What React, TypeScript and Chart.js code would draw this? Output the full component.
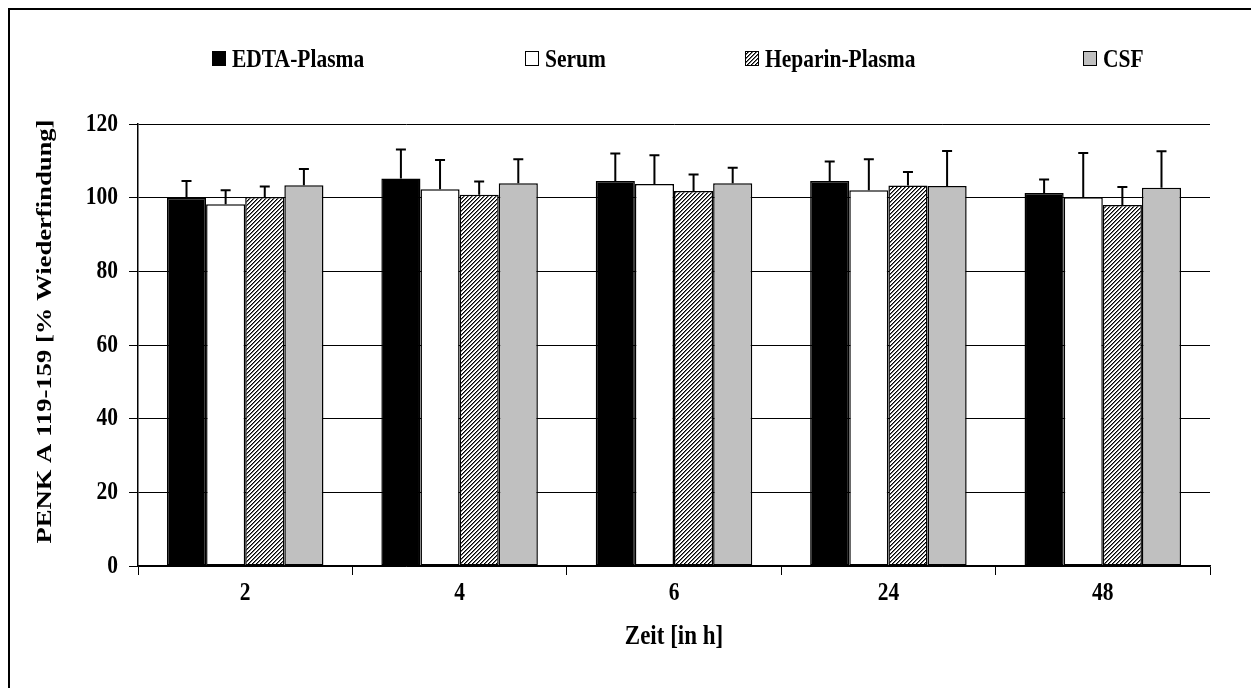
import { useEffect, useRef } from "react";
import { Chart, registerables } from "chart.js";

Chart.register(...registerables);

// Zeitpunkte (h) und Wiederfindung in %, Mittelwert und Standardabweichung
const timepoints = ["2", "4", "6", "24", "48"];
const seriesNames = ["EDTA-Plasma", "Serum", "Heparin-Plasma", "CSF"];

const edtaMean = [99.9, 105.2, 104.5, 104.5, 101.3];
const edtaSd = [4.6, 7.9, 7.5, 5.3, 3.6];
const serumMean = [98.2, 102.3, 103.7, 102.0, 100.1];
const serumSd = [3.8, 7.9, 7.8, 8.4, 12.0];
const heparinMean = [100.2, 100.8, 101.8, 103.3, 98.0];
const heparinSd = [2.8, 3.6, 4.5, 3.7, 4.9];
const csfMean = [103.4, 103.9, 103.9, 103.2, 102.7];
const csfSd = [4.4, 6.5, 4.2, 9.5, 9.9];

const yTicks = [0, 20, 40, 60, 80, 100, 120];
const xTitle = "Zeit [in h]";
const yTitle = "PENK A 119-159 [% Wiederfindung]";

const FONT_FAMILY = "'Liberation Serif', 'Times New Roman', serif";
const CANVAS_W = 1246;
const CANVAS_H = 690;
// the typeface is set tall and narrow: glyphs are stretched vertically
const TEXT_STRETCH = 1.21;

// fine diagonal hatch used for the Heparin-Plasma fill
function makeHatch(ctx: CanvasRenderingContext2D): CanvasPattern | string {
  const tile = document.createElement("canvas");
  tile.width = 4;
  tile.height = 4;
  const g = tile.getContext("2d");
  if (!g) return "#888";
  g.fillStyle = "#ffffff";
  g.fillRect(0, 0, 4, 4);
  for (let i = 0; i < 4; i++) {
    g.fillStyle = "#000000";
    g.fillRect(i, 3 - i, 1, 1);
    g.fillStyle = "#707070";
    g.fillRect((i + 1) % 4, 3 - i, 1, 1);
  }
  return ctx.createPattern(tile, "repeat") || "#888";
}

function drawText(
  c: CanvasRenderingContext2D,
  text: string,
  x: number,
  y: number,
  size: number,
  align: CanvasTextAlign,
  baseline: CanvasTextBaseline,
  rotate = 0
) {
  c.save();
  c.translate(x, y);
  c.scale(1, TEXT_STRETCH);
  if (rotate) c.rotate(rotate);
  c.font = `bold ${size}px ${FONT_FAMILY}`;
  c.textAlign = align;
  c.textBaseline = baseline;
  c.fillStyle = "#000";
  c.fillText(text, 0, 0);
  c.restore();
}

export default function App() {
  const canvasRef = useRef<HTMLCanvasElement | null>(null);

  useEffect(() => {
    document.body.style.overflow = "hidden";
    const canvas = canvasRef.current;
    if (!canvas) return;
    const ctx = canvas.getContext("2d");
    if (!ctx) return;

    const hatch = makeHatch(ctx);
    const fills: (string | CanvasPattern)[] = ["#000000", "#ffffff", hatch, "#c0c0c0"];
    const means = [edtaMean, serumMean, heparinMean, csfMean];
    const sds = [edtaSd, serumSd, heparinSd, csfSd];

    // upward error bars (mean + SD) with a short cap
    const errorBars = {
      id: "errorBars",
      afterDatasetsDraw(chart: Chart) {
        const c = chart.ctx;
        const yScale = chart.scales.y;
        c.save();
        c.strokeStyle = "#000";
        c.lineWidth = 2;
        chart.data.datasets.forEach((_ds, di) => {
          const meta = chart.getDatasetMeta(di);
          meta.data.forEach((bar: any, i: number) => {
            const x = bar.x;
            const yTop = yScale.getPixelForValue(means[di][i] + sds[di][i]);
            c.beginPath();
            c.moveTo(x, bar.y);
            c.lineTo(x, yTop);
            c.moveTo(x - 5, yTop);
            c.lineTo(x + 5, yTop);
            c.stroke();
          });
        });
        c.restore();
      },
    };

    // tick labels and axis titles, placed from the chart's own scales
    const axisText = {
      id: "axisText",
      afterDraw(chart: Chart) {
        const c = chart.ctx;
        const xs = chart.scales.x;
        const ys = chart.scales.y;
        const area = chart.chartArea;
        timepoints.forEach((label, i) => {
          drawText(c, label, xs.getPixelForTick(i), 583, 21.5, "center", "middle");
        });
        yTicks.forEach((v) => {
          drawText(c, String(v), area.left - 20, ys.getPixelForValue(v), 21.5, "right", "middle");
        });
        drawText(c, xTitle, (area.left + area.right) / 2, 627, 23, "center", "middle");
        drawText(c, yTitle, 35, 321.5, 22, "center", "middle", -Math.PI / 2);
      },
    };

    // legend row across the top
    const legendX = [202, 515, 735, 1073];
    const topLegend = {
      id: "topLegend",
      afterDraw(chart: Chart) {
        const c = chart.ctx;
        seriesNames.forEach((name, i) => {
          const x = legendX[i];
          c.save();
          c.fillStyle = fills[i] as any;
          c.fillRect(x, 41, 14, 15);
          c.strokeStyle = "#000";
          c.lineWidth = 1;
          c.strokeRect(x + 0.5, 41.5, 13, 14);
          c.restore();
          drawText(c, name, x + 20, 56.5, 21.5, "left", "alphabetic");
        });
      },
    };

    const chart = new Chart(ctx, {
      type: "bar",
      data: {
        labels: timepoints,
        datasets: seriesNames.map((name, i) => ({
          label: name,
          data: means[i],
          backgroundColor: fills[i] as any,
          borderColor: "#000",
          borderWidth: 1.5,
          borderSkipped: false as any,
          categoryPercentage: 0.73,
          barPercentage: 1.0,
        })),
      },
      options: {
        responsive: false,
        animation: false,
        layout: { padding: { top: 114, right: CANVAS_W - 1200, left: 0, bottom: 0 } },
        plugins: {
          legend: { display: false },
          tooltip: { enabled: false },
        },
        scales: {
          x: {
            afterFit(scale: any) {
              scale.height = CANVAS_H - 556;
            },
            grid: {
              display: true,
              offset: true,
              drawOnChartArea: false,
              drawTicks: true,
              tickLength: 9,
              color: "#000",
              lineWidth: 1,
            },
            border: { display: true, color: "#000", width: 1.5 },
            ticks: { display: false },
            title: { display: false },
          },
          y: {
            min: 0,
            max: 120,
            afterFit(scale: any) {
              scale.width = 128;
            },
            afterBuildTicks(scale: any) {
              scale.ticks = yTicks.map((v) => ({ value: v }));
            },
            grid: {
              display: true,
              color: "#000",
              lineWidth: 1,
              drawTicks: true,
              tickLength: 9,
            },
            border: { display: true, color: "#000", width: 1.5 },
            ticks: { display: false },
            title: { display: false },
          },
        },
      },
      plugins: [errorBars, axisText, topLegend],
    });

    return () => {
      chart.destroy();
    };
  }, []);

  return (
    <div
      style={{
        border: "2px solid #000",
        width: CANVAS_W,
        height: CANVAS_H,
        background: "#fff",
      }}
    >
      <canvas
        ref={canvasRef}
        width={CANVAS_W}
        height={CANVAS_H}
        style={{ display: "block", width: CANVAS_W, height: CANVAS_H }}
      />
    </div>
  );
}
